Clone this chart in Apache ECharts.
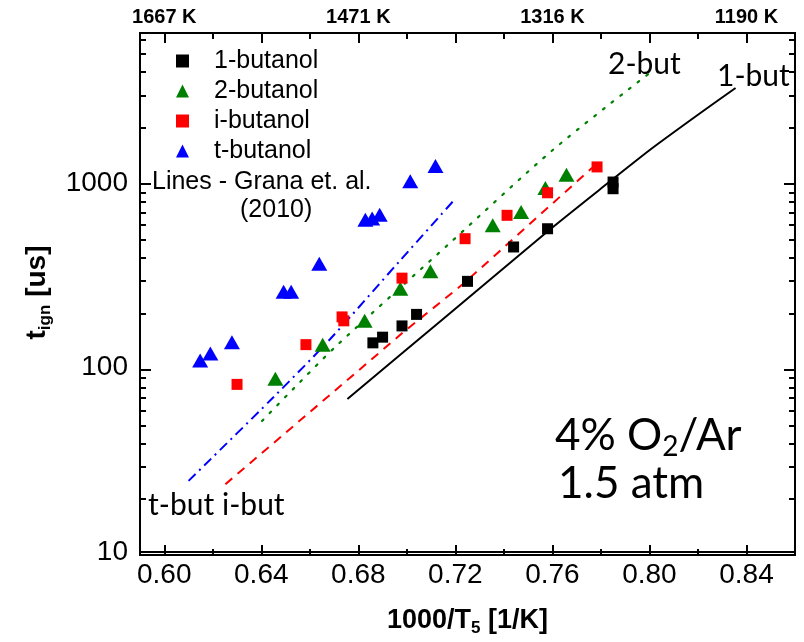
<!DOCTYPE html>
<html><head><meta charset="utf-8">
<script src="https://cdn.jsdelivr.net/npm/echarts@6/dist/echarts.min.js"></script>
<style>html,body{margin:0;padding:0;background:#fff}#wrap{position:relative;width:804px;height:642px}#c,#t{position:absolute;left:0;top:0;width:804px;height:642px}#t{pointer-events:none}</style>
</head><body><div id="wrap"><div id="c"></div><div id="t"></div></div>
<script>
// ---- axis ranges & ticks ----
const X_MIN = 0.59, X_MAX = 0.86, Y_MIN = 10, Y_MAX = 6500;
const xMajorTicks = [0.60, 0.64, 0.68, 0.72, 0.76, 0.80, 0.84];
const xMinorTicks = [0.62, 0.66, 0.70, 0.74, 0.78, 0.82];
const yMajorTicks = [10, 100, 1000];
const yMinorTicks = [20,30,40,50,60,70,80,90,200,300,400,500,600,700,800,900,2000,3000,4000,5000,6000];
const topTickValues = [0.60, 0.68, 0.76, 0.84];
const topTickLabels = ['1667 K', '1471 K', '1316 K', '1190 K'];

// ---- measured data ----
const butanol1X = [0.686, 0.690, 0.698, 0.704, 0.725, 0.744, 0.758, 0.785, 0.785];
const butanol1Y = [136, 146, 168, 194, 293, 450, 565, 1012, 931];
const butanol2X = [0.6458, 0.6653, 0.6826, 0.6973, 0.7097, 0.7354, 0.7471, 0.7571, 0.7658];
const butanol2Y = [87, 133, 179, 267, 332, 590, 697, 939, 1109];
const butanolIX = [0.630, 0.6584, 0.6733, 0.674, 0.698, 0.724, 0.7413, 0.758, 0.7784];
const butanolIY = [81, 133, 188, 179, 305, 499, 668, 885, 1222];
const butanolTX = [0.6148, 0.619, 0.6279, 0.6492, 0.6523, 0.6639, 0.6829, 0.6857, 0.6888, 0.7014, 0.7118];
const butanolTY = [109, 119, 137, 257, 257, 365, 632, 641, 673, 1021, 1236];

// ---- model lines (Grana et al. 2010) ----
const grana1X = [0.6755, 0.7179, 0.7592, 0.7798, 0.8004, 0.8210, 0.8355];
const grana1Y = [67.5, 197.5, 563, 928, 1519, 2395, 3272];
const grana2X = [0.6403, 0.6533, 0.6712, 0.7179, 0.7603, 0.8001];
const grana2Y = [51.3, 76.8, 131.9, 474.8, 1515, 3947];
const granaIX = [0.6252, 0.6987, 0.7234, 0.7764];
const granaIY = [23.3, 156, 285, 1210];
const granaTX = [0.6100, 0.6451, 0.6685, 0.6973, 0.7200];
const granaTY = [24.3, 69.2, 143.2, 381, 822];

const zip = (a, b) => a.map((v, i) => [v, b[i]]);
const FONT = 'Liberation Sans, Arial, sans-serif';
const ANNOT = 'Lato, Open Sans, sans-serif';
const near = (arr, v) => arr.findIndex(m => Math.abs(m - v) < 1e-6);
const GRID = {left: 140, right: 9, top: 33, bottom: 87};
const AX_LINE = () => ({show: true, onZero: false, lineStyle: {color: '#000', width: 2}});

// ================= main chart =================
const chart = echarts.init(document.getElementById('c'), null, {renderer: 'canvas'});
const baseX = (position, extra) => Object.assign({
  type: 'value', position, min: X_MIN, max: X_MAX, axisLine: AX_LINE(), splitLine: {show: false},
  axisTick: {show: false}, axisLabel: {show: false}
}, extra || {});
const baseY = (position, extra) => Object.assign({
  type: 'log', logBase: 10, position, min: Y_MIN, max: Y_MAX, axisLine: AX_LINE(), splitLine: {show: false},
  axisTick: {show: false}, axisLabel: {show: false}
}, extra || {});

chart.setOption({
  animation: false,
  backgroundColor: '#fff',
  grid: GRID,
  legend: {
    orient: 'vertical', left: 171, top: 43, itemWidth: 13, itemHeight: 13, itemGap: 4,
    selectedMode: false,
    data: ['1-butanol', '2-butanol', 'i-butanol', 't-butanol'],
    textStyle: {fontFamily: FONT, fontSize: 25, color: '#000', lineHeight: 26, padding: [0, 0, 0, 20]}
  },
  xAxis: [
    baseX('bottom', {
      axisLabel: {show: true, customValues: xMajorTicks, fontFamily: FONT, fontSize: 28, color: '#000', margin: 9,
        formatter: v => Number(v).toFixed(2)},
      name: '{b|1000/T}{s|5}{b| [1/K]}', nameLocation: 'middle', nameGap: 52,
      nameTextStyle: {rich: {
        b: {fontFamily: FONT, fontSize: 27, fontWeight: 'bold', color: '#000'},
        s: {fontFamily: FONT, fontSize: 17, fontWeight: 'bold', color: '#000', verticalAlign: 'top', padding: [16, 0, 0, 0]}
      }}
    }),
    baseX('top', {
      axisLabel: {show: true, customValues: topTickValues, fontFamily: FONT, fontSize: 20, fontWeight: 'bold', color: '#000', margin: 6,
        formatter: v => { const i = near(topTickValues, v); return i >= 0 ? topTickLabels[i] : ''; }}
    })
  ],
  yAxis: [
    baseY('left', {
      axisLabel: {show: true, customValues: yMajorTicks, fontFamily: FONT, fontSize: 28, color: '#000', margin: 12,
        formatter: v => String(Math.round(v))},
      name: '{b|t}{s|ign}{b| [us]}', nameLocation: 'middle', nameRotate: 90, nameGap: 86,
      nameTextStyle: {rich: {
        b: {fontFamily: FONT, fontSize: 28, fontWeight: 'bold', color: '#000'},
        s: {fontFamily: FONT, fontSize: 17, fontWeight: 'bold', color: '#000', verticalAlign: 'top', padding: [16, 0, 0, 0]}
      }}
    }),
    baseY('right')
  ],
  series: [
    {name: 'Grana 1-butanol', type: 'line', data: zip(grana1X, grana1Y), showSymbol: false, silent: true, smooth: 0.2,
      lineStyle: {color: '#000', width: 2, type: 'solid'}, z: 2},
    {name: 'Grana 2-butanol', type: 'line', data: zip(grana2X, grana2Y), showSymbol: false, silent: true, smooth: 0.3,
      lineStyle: {color: '#008000', width: 2.2, type: [2, 9], cap: 'round'}, z: 2},
    {name: 'Grana i-butanol', type: 'line', data: zip(granaIX, granaIY), showSymbol: false, silent: true,
      lineStyle: {color: '#ff0000', width: 2, type: [9, 7]}, z: 2},
    {name: 'Grana t-butanol', type: 'line', data: zip(granaTX, granaTY), showSymbol: false, silent: true, smooth: 0.3,
      lineStyle: {color: '#0000ff', width: 2, type: [10, 5, 2, 5]}, z: 2},
    {name: '1-butanol', type: 'scatter', data: zip(butanol1X, butanol1Y), symbol: 'rect', symbolSize: 11,
      itemStyle: {color: '#000', opacity: 1}, z: 3},
    {name: '2-butanol', type: 'scatter', data: zip(butanol2X, butanol2Y), symbol: 'triangle', symbolSize: [16, 14],
      itemStyle: {color: '#008000', opacity: 1}, z: 3},
    {name: 'i-butanol', type: 'scatter', data: zip(butanolIX, butanolIY), symbol: 'rect', symbolSize: 11,
      itemStyle: {color: '#ff0000', opacity: 1}, z: 3},
    {name: 't-butanol', type: 'scatter', data: zip(butanolTX, butanolTY), symbol: 'triangle', symbolSize: [16, 14],
      itemStyle: {color: '#0000ff', opacity: 1}, z: 3}
  ],
  graphic: [
    {type: 'text', left: 152, top: 170, style: {text: 'Lines - Grana et. al.', font: '25px ' + FONT, fill: '#000'}},
    {type: 'text', left: 240, top: 198, style: {text: '(2010)', font: '25px ' + FONT, fill: '#000'}},
    {type: 'text', left: 148, top: 490, style: {text: 't-but', font: '30px ' + ANNOT, fill: '#000'}},
    {type: 'text', left: 222, top: 490, style: {text: 'i-but', font: '30px ' + ANNOT, fill: '#000'}},
    {type: 'text', left: 608, top: 49, style: {text: '2-but', font: '30px ' + ANNOT, fill: '#000'}},
    {type: 'text', left: 717, top: 61, style: {text: '1-but', font: '30px ' + ANNOT, fill: '#000'}},
    {type: 'text', left: 555, top: 414, style: {
      text: '{m|4% O}{s|2}{m|/Ar}',
      rich: {m: {font: '44px ' + ANNOT, fill: '#000'}, s: {font: '28px ' + ANNOT, fill: '#000', verticalAlign: 'top', padding: [22, 0, 0, 0]}}
    }},
    {type: 'text', left: 558, top: 462, style: {text: '1.5 atm', font: '44px ' + ANNOT, fill: '#000'}}
  ]
});

// ================= tick overlay (same grid & scales, ticks only) =================
const ticks = echarts.init(document.getElementById('t'), null, {renderer: 'canvas'});
const tickX = (position, values, len) => ({
  type: 'value', position, min: X_MIN, max: X_MAX, axisLine: AX_LINE(), splitLine: {show: false},
  axisTick: {show: true, inside: true, length: len, customValues: values, lineStyle: {color: '#000', width: 2}},
  axisLabel: {show: false}
});
const tickY = (position, values, len) => ({
  type: 'log', logBase: 10, position, min: Y_MIN, max: Y_MAX, axisLine: AX_LINE(), splitLine: {show: false},
  axisTick: {show: true, inside: true, length: len, customValues: values, lineStyle: {color: '#000', width: 2}},
  axisLabel: {show: false}
});
ticks.setOption({
  animation: false,
  backgroundColor: 'transparent',
  grid: GRID,
  xAxis: [tickX('bottom', xMajorTicks, 10), tickX('bottom', xMinorTicks, 6), tickX('top', xMajorTicks, 10), tickX('top', xMinorTicks, 6)],
  yAxis: [tickY('left', yMajorTicks, 11), tickY('left', yMinorTicks, 6), tickY('right', yMajorTicks, 11), tickY('right', yMinorTicks, 6)],
  series: [{type: 'scatter', data: [], silent: true}]
});
</script></body></html>
